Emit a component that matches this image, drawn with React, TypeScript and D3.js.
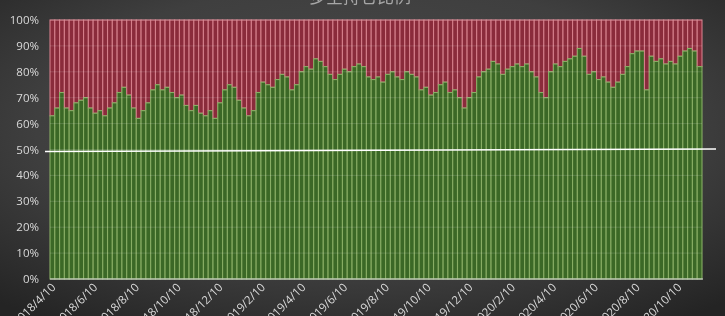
import React from "react";
import * as d3 from "d3";

const startDate = "2018/4/10";
const weekCount = 136;
// green share (%) per week
const greenShare = [
  63, 66, 72, 66, 65, 68, 69, 70, 66, 64,
  65, 63, 66, 68, 72, 74, 71, 66, 62, 65,
  68, 73, 75, 73, 74, 72, 70, 71, 67, 65,
  67, 64, 63, 65, 62, 68, 73, 75, 74, 69,
  66, 63, 65, 72, 76, 75, 74, 77, 79, 78,
  73, 75, 80, 82, 81, 85, 84, 82, 79, 77,
  79, 81, 80, 82, 83, 82, 78, 77, 78, 76,
  79, 80, 78, 77, 80, 79, 78, 73, 74, 71,
  72, 75, 76, 72, 73, 70, 66, 70, 72, 78,
  80, 81, 84, 83, 79, 81, 82, 83, 82, 83,
  80, 78, 72, 70, 80, 83, 82, 84, 85, 86,
  89, 86, 79, 80, 77, 78, 76, 74, 76, 79,
  82, 87, 88, 88, 73, 86, 84, 85, 83, 84,
  83, 86, 88, 89, 88, 82,
];
const yTicks = [0, 10, 20, 30, 40, 50, 60, 70, 80, 90, 100];
const xTickLabels = [
  "2018/4/10", "2018/6/10", "2018/8/10", "2018/10/10", "2018/12/10",
  "2019/2/10", "2019/4/10", "2019/6/10", "2019/8/10", "2019/10/10", "2019/12/10",
  "2020/2/10", "2020/4/10", "2020/6/10", "2020/8/10", "2020/10/10",
];
const title = "多空持仓比例";

const W = 725, H = 316;
const left = 50, right = 702, top = 20, bottom = 279;

export default function App() {
  const parse = d3.timeParse("%Y/%-m/%-d");
  const start = parse(startDate)!;
  const dates = d3.range(weekCount).map((i) => d3.timeDay.offset(start, i * 7));
  const half = 3.5;
  const x = d3
    .scaleTime()
    .domain([d3.timeHour.offset(dates[0], -half * 24), d3.timeHour.offset(dates[dates.length - 1], half * 24)])
    .range([left, right]);
  const y = d3.scaleLinear().domain([0, 100]).range([bottom, top]);
  const bw = x(d3.timeDay.offset(start, 7)) - x(start);

  return (
    <div style={{ position: "fixed", left: 0, top: 0, width: W, height: H }}>
      <svg width={W} height={H} style={{ display: "block" }}>
        <defs>
          <radialGradient id="bg" cx="50%" cy="40%" r="75%">
            <stop offset="0%" stopColor="#4b4b4b" />
            <stop offset="60%" stopColor="#3f3f3f" />
            <stop offset="100%" stopColor="#242424" />
          </radialGradient>
        </defs>
        <rect x={0} y={0} width={W} height={H} fill="url(#bg)" />
        <text x={360} y={3} textAnchor="middle" fontFamily="Noto Sans CJK SC" fontSize={17} fill="#a6a6a6">
          {title}
        </text>
        {dates.map((d, i) => {
          const cx = x(d);
          const g = greenShare[i];
          return (
            <g key={i}>
              <rect x={cx - bw / 2} y={y(100)} width={bw} height={y(g) - y(100)} fill="#8a2b3b" stroke="#d47e8a" strokeWidth={1.1} />
              <rect x={cx - bw / 2} y={y(g)} width={bw} height={y(0) - y(g)} fill="#3b6826" stroke="#88ad64" strokeWidth={1.1} />
            </g>
          );
        })}
        {yTicks.slice(1).map((t) => (
          <line key={t} x1={left} x2={right} y1={y(t)} y2={y(t)} stroke="#ffffff" strokeOpacity={0.15} strokeWidth={1} />
        ))}
        <line x1={left} x2={right + 1} y1={y(0)} y2={y(0)} stroke="#d9d9d9" strokeWidth={1.2} />
        <line x1={left - 5} x2={716} y1={y(49.2)} y2={y(50.2)} stroke="#ffffff" strokeWidth={1.4} />
        {yTicks.map((t) => (
          <text key={t} x={39} y={y(t) + 4} textAnchor="end" fontFamily="Open Sans" fontSize={11.5} fill="#d9d9d9">
            {t}%
          </text>
        ))}
        {xTickLabels.map((l) => {
          const px = x(parse(l)!);
          return (
            <text
              key={l}
              transform={`translate(${px + 4},${bottom + 9}) rotate(-45)`}
              textAnchor="end"
              fontFamily="Open Sans"
              fontSize={11.5}
              fill="#d9d9d9"
            >
              {l}
            </text>
          );
        })}
      </svg>
    </div>
  );
}
